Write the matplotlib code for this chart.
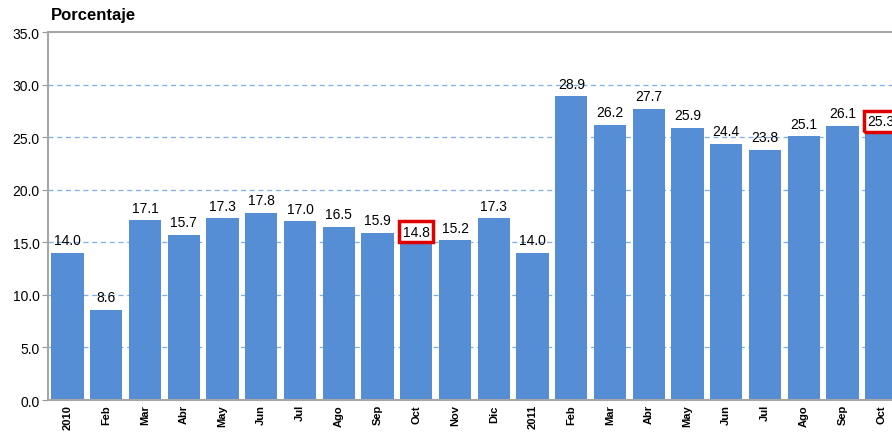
import numpy as np
import matplotlib.pyplot as plt

meses = ["2010", "Feb", "Mar", "Abr", "May", "Jun", "Jul", "Ago", "Sep", "Oct", "Nov", "Dic",
         "2011", "Feb", "Mar", "Abr", "May", "Jun", "Jul", "Ago", "Sep", "Oct"]
valores = [14.0, 8.6, 17.1, 15.7, 17.3, 17.8, 17.0, 16.5, 15.9, 14.8, 15.2, 17.3,
           14.0, 28.9, 26.2, 27.7, 25.9, 24.4, 23.8, 25.1, 26.1, 25.3]
marcados = [9, 21]  # labels boxed in red

plt.rcParams['font.family'] = ['Liberation Sans', 'DejaVu Sans']

fig = plt.figure(figsize=(8.92, 4.35), dpi=100)
ax = fig.add_axes([0.054, 0.078, 0.95, 0.846])

x = np.arange(len(valores))
ax.bar(x, valores, width=0.83, color="#558ED5", zorder=2)

ax.set_ylim(0, 35)
ax.set_xlim(-0.5, 21.37)
ax.set_yticks(np.arange(0, 35.1, 5))
ax.set_yticklabels(["%.1f" % v for v in np.arange(0, 35.1, 5)], fontsize=10)
for v in np.arange(5, 31, 5):
    ax.axhline(v, color="#7FAEE6", lw=0.9, ls=(0, (4, 3)), zorder=1)

ax.set_xticks(x)
ax.set_xticklabels(meses, rotation=90, fontsize=8, fontweight="bold")
ax.tick_params(axis="x", length=0, pad=3)
ax.tick_params(axis="y", length=4, color="#999999", pad=2)

for s in ["left", "bottom", "top"]:
    ax.spines[s].set_color("#A6A6A6")
    ax.spines[s].set_linewidth(1.5)
ax.spines["right"].set_visible(False)

for i, v in enumerate(valores):
    if i in marcados:
        ax.annotate("%.1f" % v, (i, v), xytext=(0, 4), textcoords="offset points",
                    ha="center", va="bottom", fontsize=10,
                    bbox=dict(boxstyle="square,pad=0.25", fc="none", ec="#E00000", lw=2.5),
                    zorder=4)
    else:
        ax.annotate("%.1f" % v, (i, v), xytext=(0, 4), textcoords="offset points",
                    ha="center", va="bottom", fontsize=10, zorder=4)

fig.text(0.057, 0.955, "Porcentaje", fontsize=12, fontweight="bold")

fig.savefig("out.png", dpi=100)
